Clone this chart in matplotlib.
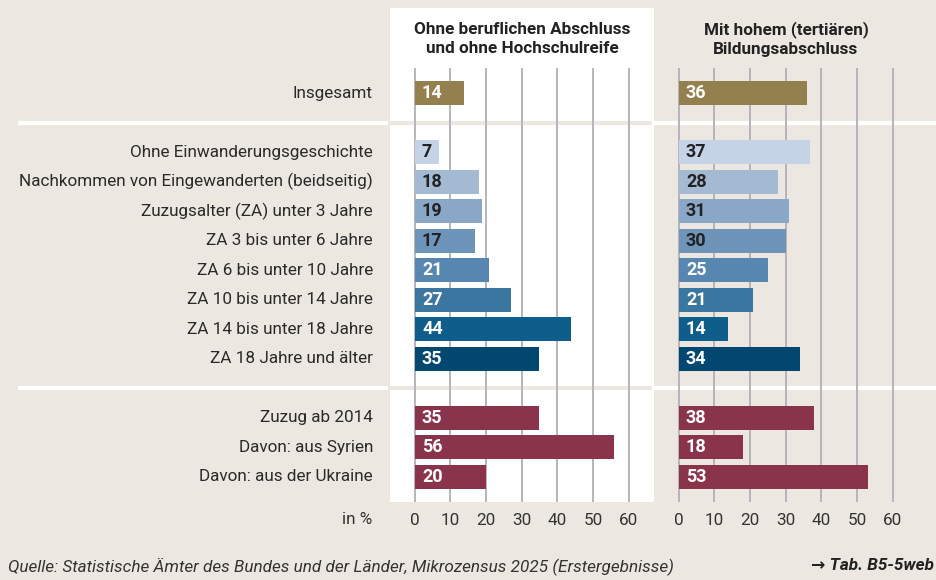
import numpy as np
import matplotlib
matplotlib.use("Agg")
import matplotlib.pyplot as plt
from matplotlib.patches import Rectangle
from matplotlib.lines import Line2D

# Daten
kategorien = [
    "Insgesamt",
    "Ohne Einwanderungsgeschichte",
    "Nachkommen von Eingewanderten (beidseitig)",
    "Zuzugsalter (ZA) unter 3 Jahre",
    "ZA 3 bis unter 6 Jahre",
    "ZA 6 bis unter 10 Jahre",
    "ZA 10 bis unter 14 Jahre",
    "ZA 14 bis unter 18 Jahre",
    "ZA 18 Jahre und älter",
    "Zuzug ab 2014",
    "Davon: aus Syrien",
    "Davon: aus der Ukraine",
]
ohne_abschluss = [14, 7, 18, 19, 17, 21, 27, 44, 35, 35, 56, 20]
hoher_abschluss = [36, 37, 28, 31, 30, 25, 21, 14, 34, 38, 18, 53]
titel = ["Ohne beruflichen Abschluss\nund ohne Hochschulreife",
         "Mit hohem (tertiären)\nBildungsabschluss"]
ticks = [0, 10, 20, 30, 40, 50, 60]

# Zeilenpositionen (mit Lücken für die Trennlinien)
pos = [0, 2, 3, 4, 5, 6, 7, 8, 9, 11, 12, 13]
trenner = [1, 10]

farben = ["#94804f",
          "#c4d3e6", "#a4b9d2", "#8aa7c7", "#6f94ba", "#5786b0", "#3b76a1", "#0f5d8b", "#02476f",
          "#89344b", "#89344b", "#89344b"]
textfarben = ["white", "#222222", "#222222", "#222222", "#222222",
              "white", "white", "white", "white", "white", "white", "white"]

BG = "#ece8e1"
GRID = "#b4b4ba"
plt.rcParams["font.family"] = ["Roboto", "DejaVu Sans"]
FS = 12.3

W, H = 937, 580
fig = plt.figure(figsize=(W / 100, H / 100), dpi=100)
fig.patch.set_facecolor(BG)

def fx(px):
    return px / W

def fy(py):
    return 1 - py / H

# weißes Panel links
fig.patches.append(Rectangle((fx(390), fy(502)), fx(264), fy(8) - fy(502),
                             transform=fig.transFigure, facecolor="white",
                             edgecolor="none", zorder=-5))

y_top, y_bot = 68, 502
xlim = (-6.87, 67.14)
ylim = (13.85, -0.85)

# Trennlinien
for t in trenner:
    ypx = y_top + (t - ylim[1]) / (ylim[0] - ylim[1]) * (y_bot - y_top)
    fig.add_artist(Line2D([fx(20), fx(390)], [fy(ypx)] * 2, color="white", lw=3, zorder=-4))
    fig.add_artist(Line2D([fx(390), fx(654)], [fy(ypx)] * 2, color=BG, lw=3, zorder=-4))
    fig.add_artist(Line2D([fx(654), fx(937)], [fy(ypx)] * 2, color="white", lw=3, zorder=-4))

panels = [(390, ohne_abschluss), (654, hoher_abschluss)]
for i, (x0, werte) in enumerate(panels):
    ax = fig.add_axes([fx(x0), fy(y_bot), fx(264), fy(y_top) - fy(y_bot)])
    ax.set_zorder(2)
    ax.patch.set_alpha(0)
    ax.set_xlim(*xlim)
    ax.set_ylim(*ylim)
    for t in ticks:
        ax.axvline(t, color=GRID, lw=1.4, zorder=1)
    ax.barh(pos, werte, height=0.81, color=farben, zorder=2)
    for p, v, c in zip(pos, werte, textfarben):
        ax.text(2.1, p, str(v), color=c, fontsize=FS + 0.7, fontweight="bold",
                va="center", ha="left", zorder=3)
    ax.set_xticks(ticks)
    ax.set_xticklabels([str(t) for t in ticks], fontsize=FS, color="#333333")
    ax.tick_params(axis="x", length=0, pad=8)
    ax.set_yticks([])
    for s in ax.spines.values():
        s.set_visible(False)
    fig.text(fx(x0 + 132), fy(39), titel[i], ha="center", va="center",
             fontsize=FS, fontweight="bold", color="#222222", linespacing=1.35)
    if i == 0:
        for p, k in zip(pos, kategorien):
            ax.text(-6.87 - 17 / 3.567, p, k, ha="right", va="center",
                    fontsize=FS, color="#2a2a2a")

fig.text(fx(372), fy(519), "in %", ha="right", va="center", fontsize=FS, color="#333333")
fig.text(fx(8), fy(566), "Quelle: Statistische Ämter des Bundes und der Länder, Mikrozensus 2025 (Erstergebnisse)",
         ha="left", va="center", fontsize=FS, style="italic", color="#333333")
fig.text(fx(934), fy(566), "→ Tab. B5-5web", ha="right", va="center", fontsize=FS,
         style="italic", fontweight="bold", color="#222222")

fig.savefig("out.png", dpi=100, facecolor=BG)
